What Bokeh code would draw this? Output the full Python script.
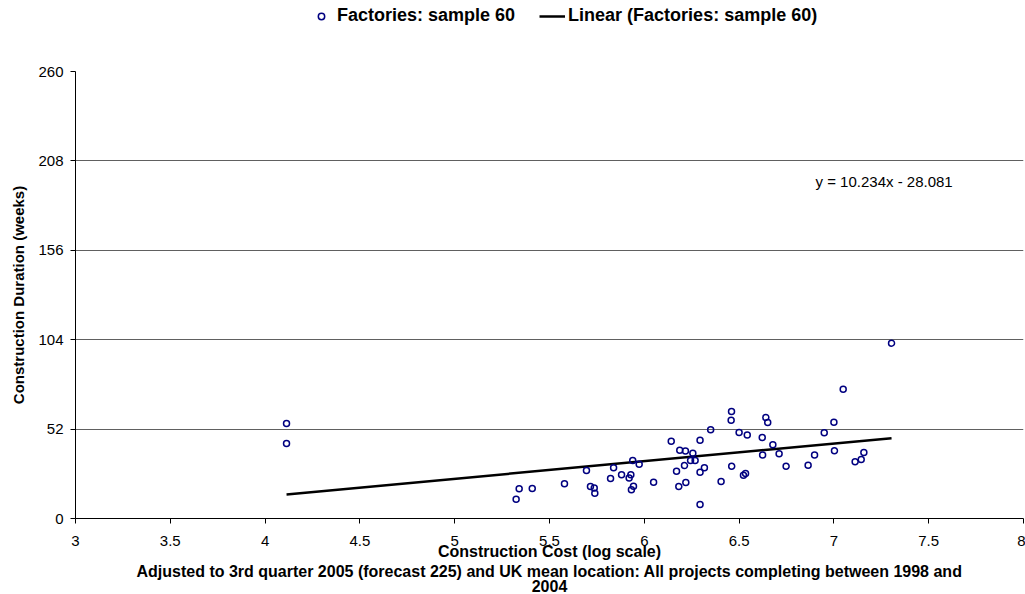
from bokeh.plotting import figure
from bokeh.layouts import column
from bokeh.models import (Range1d, FixedTicker, CustomJSTickFormatter, Label,
                          Legend, LegendItem, Title)
from bokeh.embed import file_html
from bokeh.resources import INLINE

# ---- data ----
cost_log = [4.113, 4.113, 5.324, 5.34, 5.409, 5.579, 5.695, 5.716, 5.736, 5.739,
            5.822, 5.838, 5.88, 5.92, 5.929, 5.932, 5.943, 5.939, 5.973, 6.049,
            6.142, 6.17, 6.182, 6.187, 6.217, 6.256, 6.212, 6.219, 6.244, 6.268,
            6.294, 6.294, 6.294, 6.317, 6.35, 6.405, 6.458, 6.46, 6.461, 6.50,
            6.523, 6.534, 6.543, 6.622, 6.624, 6.641, 6.651, 6.678, 6.711, 6.748,
            6.864, 6.898, 6.949, 7.0, 7.003, 7.049, 7.112, 7.144, 7.158, 7.304]
duration_weeks = [55.3, 43.6, 11.2, 17.3, 17.5, 20.2, 27.9, 18.6, 17.8, 14.7,
                  23.3, 29.5, 25.4, 23.5, 25.4, 16.7, 18.8, 33.7, 31.6, 21.1,
                  45.0, 27.5, 18.6, 39.7, 39.2, 38.0, 30.8, 20.9, 33.7, 33.7,
                  45.5, 26.9, 8.1, 29.5, 51.6, 21.5, 57.2, 62.2, 30.4, 50.0,
                  25.2, 26.2, 48.5, 47.1, 37.0, 58.8, 55.8, 42.9, 37.6, 30.4,
                  31.0, 37.0, 49.9, 56.0, 39.4, 75.2, 33.0, 34.3, 38.4, 102.0]
trend_slope = 10.234
trend_intercept = -28.081
x_ticks = [3, 3.5, 4, 4.5, 5, 5.5, 6, 6.5, 7, 7.5, 8]
y_ticks = [0, 52, 104, 156, 208, 260]

series_name = "Factories: sample 60"
trend_name = "Linear (Factories: sample 60)"
equation_text = "y = 10.234x - 28.081"
x_title = "Construction Cost (log scale)"
y_title = "Construction Duration (weeks)"
subtitle_1 = "Adjusted to 3rd quarter 2005 (forecast 225) and UK mean location: All projects completing between 1998 and"
subtitle_2 = "2004"

FONT = "Liberation Sans"
PT_COLOR = "#000080"

# ---------------- main chart ----------------
p = figure(width=1025, height=554, output_backend="svg", toolbar_location=None,
           x_range=Range1d(3, 8), y_range=Range1d(0, 260),
           min_border_left=75, min_border_right=2, min_border_top=31,
           min_border_bottom=76)
p.outline_line_color = None
p.background_fill_color = "white"
p.border_fill_color = "white"

p.xaxis.ticker = FixedTicker(ticks=x_ticks)
p.yaxis.ticker = FixedTicker(ticks=y_ticks)
p.xaxis.formatter = CustomJSTickFormatter(code="return String(tick)")
for ax in (p.xaxis[0], p.yaxis[0]):
    ax.axis_line_color = "black"
    ax.axis_line_width = 1
    ax.major_tick_line_color = "black"
    ax.major_tick_in = 0
    ax.major_tick_out = 5
    ax.minor_tick_line_color = None
    ax.major_label_text_font = FONT
    ax.major_label_text_font_size = "15px"
    ax.major_label_text_color = "black"
p.xaxis.major_label_standoff = 12
p.yaxis.major_label_standoff = 7
p.yaxis.axis_label = y_title
p.yaxis.axis_label_text_font = FONT
p.yaxis.axis_label_text_font_size = "15px"
p.yaxis.axis_label_text_font_style = "bold"
p.yaxis.axis_label_text_color = "black"
p.yaxis.axis_label_standoff = 8
p.xaxis.axis_label = x_title
p.xaxis.axis_label_text_font = FONT
p.xaxis.axis_label_text_font_size = "16px"
p.xaxis.axis_label_text_font_style = "bold"
p.xaxis.axis_label_text_color = "black"
p.xaxis.axis_label_standoff = -6

p.xgrid.grid_line_color = None
p.ygrid.grid_line_color = "#606060"
p.ygrid.grid_line_width = 1

tx = [min(cost_log), max(cost_log)]
ty = [trend_slope * v + trend_intercept for v in tx]
p.line(tx, ty, line_color="black", line_width=2.5)
p.scatter(cost_log, duration_weeks, marker="circle", size=6,
          line_color=PT_COLOR, line_width=1.5, fill_alpha=0)

p.add_layout(Label(x=6.903, y=196, text=equation_text, text_font=FONT,
                   text_font_size="15px", text_baseline="middle",
                   text_align="left", text_color="black"))

for txt, sd in [(subtitle_1, -3), (subtitle_2, -1)]:
    p.add_layout(Title(text=txt, align="center", text_font=FONT,
                       text_font_size="16px", text_font_style="bold",
                       text_color="black", standoff=sd, offset=0), "below")

# ---------------- legend strip on top ----------------
lg = figure(width=1025, height=40, output_backend="svg", toolbar_location=None,
            x_range=Range1d(0, 1), y_range=Range1d(0, 1),
            x_axis_type=None, y_axis_type=None,
            min_border_left=0, min_border_right=0, min_border_top=0,
            min_border_bottom=0)
lg.outline_line_color = None
lg.xgrid.grid_line_color = None
lg.ygrid.grid_line_color = None
lr_pts = lg.scatter([-5], [-5], marker="circle", size=6, line_color=PT_COLOR,
                    line_width=1.5, fill_alpha=0)
lr_line = lg.line([-6, -5], [-5, -5], line_color="black", line_width=2.5)
legend = Legend(items=[LegendItem(label=series_name, renderers=[lr_pts]),
                       LegendItem(label=trend_name, renderers=[lr_line])],
                orientation="horizontal", location=(233, 14),
                border_line_color=None, background_fill_alpha=0,
                padding=0, margin=0, spacing=24, glyph_width=26,
                glyph_height=16, label_standoff=3,
                label_text_font=FONT, label_text_font_size="18px",
                label_text_font_style="bold", label_text_color="black")
lg.add_layout(legend, "center")

open("out.html", "w").write(file_html(column(lg, p, spacing=0), INLINE))
